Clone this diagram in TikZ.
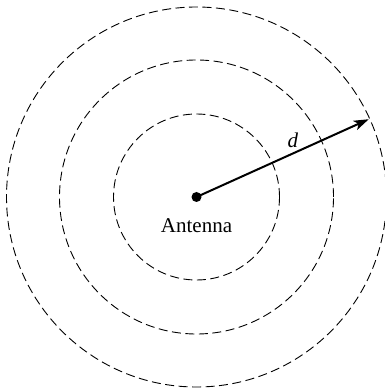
\documentclass[tikz,border=0pt]{standalone}
\usepackage{fontspec}
\setmainfont{Liberation Serif}
\usetikzlibrary{arrows.meta, positioning}
\tikzset{
    % Dashed wavefront circle
    wavefront/.style={
        draw=black,
        line width=0.9pt,
        dash pattern=on 9pt off 4.5pt,
    },
    % Antenna point
    antdot/.style={
        circle,
        fill=black,
        inner sep=0pt,
        minimum size=10pt,
    },
    % Distance arrow
    distarrow/.style={
        -{Stealth[length=15pt, width=10pt, inset=4pt]},
        line width=2pt,
        black,
    },
    % Label style
    txtlabel/.style={
        font=\fontsize{21}{24}\selectfont,
        inner sep=2pt,
    },
}

\begin{document}
\begin{tikzpicture}[x=1pt, y=1pt]

% frame of the picture
\useasboundingbox (-196.5,-193) rectangle (187.5,197);

% --- Antenna ---
\node[antdot] (ant) at (0,0) {};
\node[txtlabel, below=14pt of ant] (antlabel) {Antenna};

% --- Wavefronts ---
\draw[wavefront] (ant.center) circle (83);
\draw[wavefront] (ant.center) circle (137);
\draw[wavefront] (ant.center) circle (190);

% --- Distance d ---
\coordinate (tip) at (24.3:189);
\draw[distarrow] (ant.center) -- node[txtlabel, pos=0.56, above=3pt] {\itshape d} (tip);

\end{tikzpicture}
\end{document}
